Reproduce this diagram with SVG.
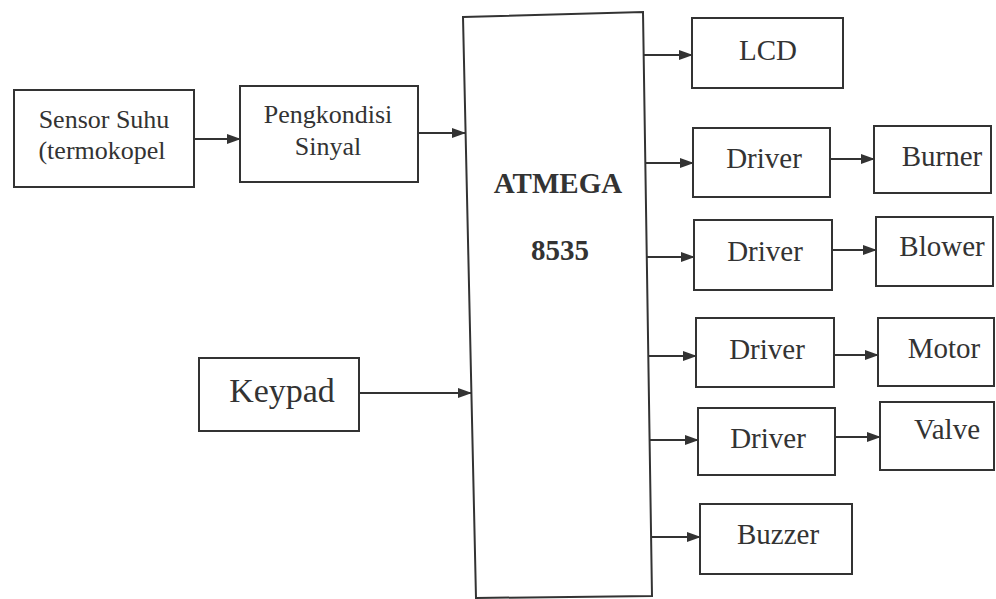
<svg xmlns="http://www.w3.org/2000/svg" width="996" height="599" viewBox="0 0 996 599">
<defs>
<marker id="ah" markerWidth="14" markerHeight="10" refX="13" refY="5" orient="auto" markerUnits="userSpaceOnUse">
<path d="M0,0 L14,5 L0,10 Z" fill="#333"/>
</marker>
<style>
.box{fill:#fff;stroke:#333;stroke-width:2}
text{font-family:'Liberation Serif','DejaVu Serif',serif;fill:#333;text-anchor:middle}
.s{font-size:26px}
.m{font-size:29px}
.b{font-size:29px;font-weight:bold}
.k{font-size:34px}
.c{fill:none;stroke:#333;stroke-width:2;marker-end:url(#ah)}
</style>
</defs>
<rect width="996" height="599" fill="#fff"/>
<g id="sensor"><rect class="box" x="14" y="90" width="180" height="97"/><text class="s" x="104" y="128">Sensor Suhu</text><text class="s" x="102" y="159">(termokopel</text></g>
<g id="pengkondisi"><rect class="box" x="240" y="86" width="178" height="96"/><text class="s" x="328" y="123">Pengkondisi</text><text class="s" x="328" y="155">Sinyal</text></g>
<g id="keypad"><rect class="box" x="199" y="358" width="160" height="73"/><text class="k" x="282" y="402">Keypad</text></g>
<g id="atmega"><polygon class="box" points="463,17 643,12 652,596 476,598"/><text class="b" x="558" y="193">ATMEGA</text><text class="b" x="560" y="260">8535</text></g>
<g id="lcd"><rect class="box" x="692" y="18" width="151" height="70"/><text class="m" x="768" y="60">LCD</text></g>
<g id="driver1"><rect class="box" x="693" y="128" width="137" height="69"/><text class="m" x="764" y="168">Driver</text></g>
<g id="burner"><rect class="box" x="874" y="126" width="117" height="67"/><text class="m" x="942" y="166">Burner</text></g>
<g id="driver2"><rect class="box" x="694" y="220" width="138" height="70"/><text class="m" x="765" y="261">Driver</text></g>
<g id="blower"><rect class="box" x="876" y="217" width="117" height="69"/><text class="m" x="942" y="256">Blower</text></g>
<g id="driver3"><rect class="box" x="696" y="318" width="138" height="69"/><text class="m" x="767" y="359">Driver</text></g>
<g id="motor"><rect class="box" x="878" y="318" width="116" height="68"/><text class="m" x="944" y="358">Motor</text></g>
<g id="driver4"><rect class="box" x="698" y="408" width="137" height="67"/><text class="m" x="768" y="448">Driver</text></g>
<g id="valve"><rect class="box" x="880" y="402" width="114" height="68"/><text class="m" x="947" y="439">Valve</text></g>
<g id="buzzer"><rect class="box" x="700" y="504" width="152" height="70"/><text class="m" x="778" y="544">Buzzer</text></g>
<g id="connectors">
<line class="c" x1="194" y1="139" x2="240" y2="139"/>
<line class="c" x1="418" y1="133" x2="465" y2="133"/>
<line class="c" x1="359" y1="393" x2="471" y2="393"/>
<line class="c" x1="644" y1="55" x2="692" y2="55"/>
<line class="c" x1="645" y1="163" x2="693" y2="163"/>
<line class="c" x1="647" y1="257" x2="694" y2="257"/>
<line class="c" x1="648" y1="356" x2="696" y2="356"/>
<line class="c" x1="650" y1="440" x2="698" y2="440"/>
<line class="c" x1="651" y1="537" x2="700" y2="537"/>
<line class="c" x1="830" y1="159" x2="874" y2="159"/>
<line class="c" x1="832" y1="250" x2="876" y2="250"/>
<line class="c" x1="834" y1="355" x2="878" y2="355"/>
<line class="c" x1="835" y1="437" x2="880" y2="437"/>
</g>
</svg>
